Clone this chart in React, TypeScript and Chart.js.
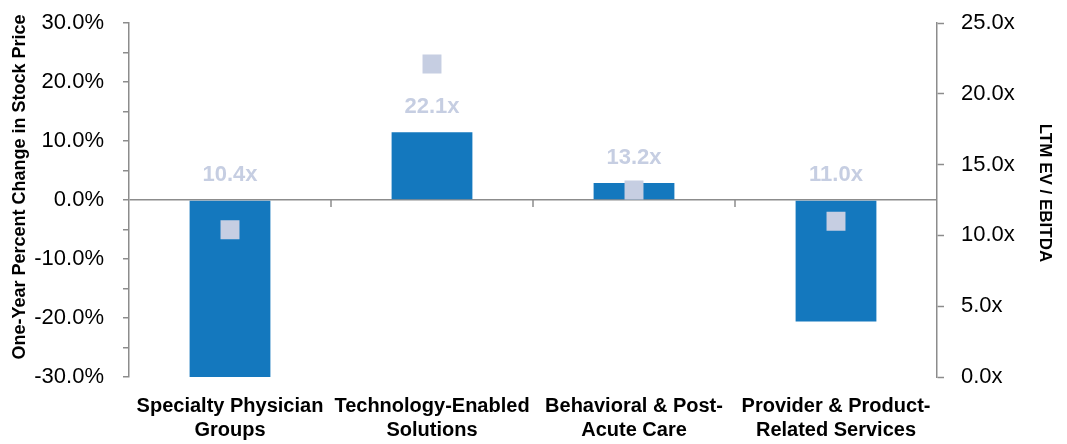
import React, { useEffect, useRef } from "react";
import { Chart, registerables } from "chart.js";

Chart.register(...registerables);

const categories: string[][] = [
  ["Specialty Physician", "Groups"],
  ["Technology-Enabled", "Solutions"],
  ["Behavioral & Post-", "Acute Care"],
  ["Provider & Product-", "Related Services"],
];
const stockChange: number[] = [-30.0, 11.5, 2.9, -20.6];
const evEbitda: number[] = [10.4, 22.1, 13.2, 11.0];
const leftTicks = { min: -30, max: 30, step: 5, labelEvery: 10 };
const rightTicks = { min: 0, max: 25, step: 5 };
const leftTitle = "One-Year Percent Change in Stock Price";
const rightTitle = "LTM EV / EBITDA";

const BAR = "#1478BE";
const SQUARE = "#C6CEE2";
const AXIS = "#8C8C8C";
const FONT = "'Liberation Sans', Arial, sans-serif";

const labelPlugin = {
  id: "evLabels",
  afterDatasetsDraw(chart: any) {
    const { ctx } = chart;
    const x = chart.scales.x;
    const y = chart.scales.y;
    ctx.save();
    ctx.font = `bold 22px ${FONT}`;
    ctx.fillStyle = SQUARE;
    ctx.textAlign = "center";
    ctx.textBaseline = "middle";
    evEbitda.forEach((v, i) => {
      const px = x.getPixelForValue(i);
      const top = y.getPixelForValue(Math.max(0, stockChange[i]));
      ctx.fillText(v.toFixed(1) + "x", px, top - 25);
    });
    ctx.restore();
  },
};

const decorPlugin = {
  id: "decor",
  afterDraw(chart: any) {
    const { ctx, chartArea } = chart;
    const x = chart.scales.x;
    const y = chart.scales.y;
    const y0 = y.getPixelForValue(0);
    ctx.save();
    ctx.strokeStyle = AXIS;
    ctx.lineWidth = 1.5;
    for (let i = 0; i < categories.length - 1; i++) {
      const bx = (x.getPixelForValue(i) + x.getPixelForValue(i + 1)) / 2;
      ctx.beginPath();
      ctx.moveTo(bx, y0);
      ctx.lineTo(bx, y0 + 7);
      ctx.stroke();
    }
    const midY = (chartArea.top + chartArea.bottom) / 2;
    ctx.fillStyle = "#000";
    ctx.textAlign = "center";
    ctx.textBaseline = "middle";
    ctx.font = `bold 18px ${FONT}`;
    ctx.translate(20, midY - 13);
    ctx.rotate(-Math.PI / 2);
    ctx.fillText(leftTitle, 0, 0);
    ctx.restore();
    ctx.save();
    ctx.fillStyle = "#000";
    ctx.textAlign = "center";
    ctx.textBaseline = "middle";
    ctx.font = `bold 17px ${FONT}`;
    ctx.translate(1045, midY - 7);
    ctx.rotate(Math.PI / 2);
    ctx.fillText(rightTitle, 0, 0);
    ctx.restore();
  },
};

export default function App() {
  const ref = useRef<HTMLCanvasElement | null>(null);
  useEffect(() => {
    if (!ref.current) return;
    const chart = new Chart(ref.current, {
      type: "bar",
      data: {
        labels: categories,
        datasets: [
          {
            type: "bar",
            data: stockChange,
            backgroundColor: BAR,
            borderWidth: 0,
            barPercentage: 0.8,
            categoryPercentage: 0.5,
            yAxisID: "y",
            order: 2,
          },
          {
            type: "line",
            data: evEbitda,
            showLine: false,
            pointStyle: "rect",
            pointRadius: 13.4,
            pointBackgroundColor: SQUARE,
            pointBorderWidth: 0,
            pointBorderColor: SQUARE,
            yAxisID: "y1",
            order: 1,
          } as any,
        ],
      },
      options: {
        responsive: false,
        animation: false,
        layout: { padding: { top: 23, bottom: 0, left: 0, right: 0 } },
        plugins: {
          legend: { display: false },
          tooltip: { enabled: false },
        },
        scales: {
          x: {
            type: "category",
            offset: true,
            grid: { display: false, drawTicks: false },
            border: { display: false },
            ticks: {
              color: "#000",
              font: { family: FONT, size: 20, weight: "bold", lineHeight: 1.2 },
              padding: 17,
              maxRotation: 0,
              autoSkip: false,
            },
            afterFit: (s: any) => {
              s.height = 67;
            },
          },
          y: {
            position: "left",
            min: leftTicks.min,
            max: leftTicks.max,
            grid: {
              drawOnChartArea: true,
              color: (c: any) => (c.tick && c.tick.value === 0 ? AXIS : "rgba(0,0,0,0)"),
              lineWidth: 1.5,
              tickColor: AXIS,
              tickLength: 6,
              tickWidth: 1.5,
            },
            border: { display: true, color: AXIS, width: 1.5 },
            ticks: {
              stepSize: leftTicks.step,
              color: "#000",
              font: { family: FONT, size: 22 },
              padding: 19,
              callback: (v: any) =>
                Number(v) % leftTicks.labelEvery === 0 ? Number(v).toFixed(1) + "%" : "",
            },
            afterFit: (s: any) => {
              s.width = 129;
              s.paddingTop = 0;
              s.paddingBottom = 0;
            },
          },
          y1: {
            position: "right",
            min: rightTicks.min,
            max: rightTicks.max,
            grid: {
              drawOnChartArea: false,
              tickColor: AXIS,
              tickLength: 7,
              tickWidth: 1.5,
            },
            border: { display: true, color: AXIS, width: 1.5 },
            ticks: {
              stepSize: rightTicks.step,
              color: "#000",
              font: { family: FONT, size: 22 },
              padding: 17,
              callback: (v: any) => Number(v).toFixed(1) + "x",
            },
            afterFit: (s: any) => {
              s.width = 130;
              s.paddingTop = 0;
              s.paddingBottom = 0;
            },
          },
        },
      },
      plugins: [labelPlugin, decorPlugin],
    });
    return () => chart.destroy();
  }, []);
  return (
    <div style={{ position: "absolute", left: 0, top: 0, width: 1067, height: 444, background: "#fff" }}>
      <canvas ref={ref} width={1067} height={444} />
    </div>
  );
}
